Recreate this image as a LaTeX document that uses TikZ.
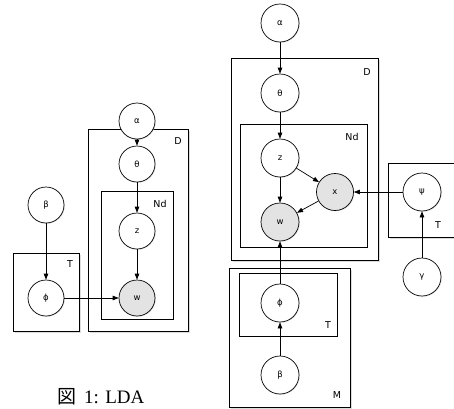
\documentclass[tikz,border=0pt]{standalone}
\usepackage{fontspec}
\setmainfont{DejaVu Sans}
\newfontfamily\capserif{Liberation Serif}
\newfontfamily\jpfont{Noto Sans CJK JP}
\usetikzlibrary{arrows.meta,shadows}
\begin{document}
\begin{tikzpicture}[x=1pt,y=-1pt,
  var/.style={circle,draw,line width=0.7pt,fill=white,inner sep=0pt,minimum size=#1,
    font=\fontsize{8.5}{9}\selectfont,
    drop shadow={shadow xshift=0.8pt,shadow yshift=-0.8pt,fill=gray!45}},
  var/.default=36pt,
  obs/.style={var=#1,fill=gray!22},
  obs/.default=36pt,
  plate/.style={draw,line width=0.7pt,fill=white,
    drop shadow={shadow xshift=1.6pt,shadow yshift=-1.6pt,fill=gray!55}},
  inplate/.style={draw,line width=0.7pt},
  plabel/.style={font=\fontsize{9.5}{10}\selectfont,inner sep=0pt},
  edge/.style={line width=0.7pt,-{Triangle[length=6pt,width=4.5pt]}}]
\useasboundingbox (0,0) rectangle (454,408);

% ---------------- left diagram ----------------
\draw[plate] (88,129) rectangle (188,331);
\node[plabel] (lD) at (178,141) {D};
\draw[inplate] (101,191) rectangle (173,319);
\node[plabel] (lNd) at (160,204) {Nd};
\draw[plate] (13,253) rectangle (79,331);
\node[plabel] (lT) at (70,264) {T};

\node[var] (la) at (137,121) {α};
\node[var] (lth) at (137,164) {θ};
\node[var] (lz) at (137,231) {z};
\node[obs] (lw) at (137,298) {w};
\node[var] (lb) at (46,205) {β};
\node[var] (lph) at (46,298) {ϕ};

\draw[edge] (la) -- (lth);
\draw[edge] (lth) -- (lz);
\draw[edge] (lz) -- (lw);
\draw[edge] (lb) -- (lph);
\draw[edge] (lph) -- (lw);

\node[anchor=base west,inner sep=0pt,font=\fontsize{19}{20}\selectfont] (cap) at (57,403)
  {{\jpfont 図}\hspace{8pt}{\capserif 1: LDA}};

% ---------------- right diagram ----------------
\draw[plate] (231,58) rectangle (378,260);
\node[plabel] (rD) at (367,72) {D};
\draw[inplate] (240,124) rectangle (367,247);
\node[plabel] (rNd) at (352,137) {Nd};
\draw[plate] (388,163) rectangle (462,237);
\node[plabel] (rT) at (438,225) {T};
\draw[plate] (229,268) rectangle (350,407);
\node[plabel] (rM) at (337,395) {M};
\draw[inplate] (239,273) rectangle (337,336);
\node[plabel] (rTi) at (328,325) {T};

\node[var=38pt] (ra) at (280,23) {α};
\node[var=38pt] (rth) at (280,93) {θ};
\node[var=38pt] (rz) at (280,158) {z};
\node[obs=37pt] (rx) at (335,192) {x};
\node[obs=38pt] (rw) at (280,222) {w};
\node[var=38pt] (rps) at (422,192) {ψ};
\node[var=38pt] (rg) at (422,277) {γ};
\node[var=38pt] (rph) at (280,303) {ϕ};
\node[var=38pt] (rb) at (280,375) {β};

\draw[edge] (ra) -- (rth);
\draw[edge] (rth) -- (rz);
\draw[edge] (rz) -- (rw);
\draw[edge] (rz) -- (rx);
\draw[edge] (rx) -- (rw);
\draw[edge] (rps) -- (rx);
\draw[edge] (rg) -- (rps);
\draw[edge] (rph) -- (rw);
\draw[edge] (rb) -- (rph);
\end{tikzpicture}
\end{document}
